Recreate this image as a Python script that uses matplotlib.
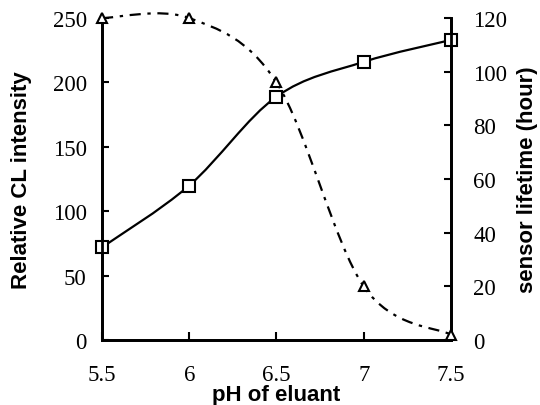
import matplotlib
matplotlib.use('Agg')
import matplotlib.pyplot as plt
from matplotlib.path import Path
from matplotlib.patches import PathPatch

ph = [5.5, 6.0, 6.5, 7.0, 7.5]
intensity = [72, 120, 189, 216, 233]
lifetime = [120, 120, 96, 20, 2]


def smooth_path(xs, ys):
    # Excel-like smoothed line: cubic Bezier segments (Catmull-Rom tangents)
    verts = [(xs[0], ys[0])]
    codes = [Path.MOVETO]
    n = len(xs)
    for i in range(n - 1):
        x0, y0 = (xs[i - 1], ys[i - 1]) if i > 0 else (xs[i], ys[i])
        x1, y1 = xs[i], ys[i]
        x2, y2 = xs[i + 1], ys[i + 1]
        x3, y3 = (xs[i + 2], ys[i + 2]) if i + 2 < n else (x2, y2)
        c1 = (x1 + (x2 - x0) / 6, y1 + (y2 - y0) / 6)
        c2 = (x2 - (x3 - x1) / 6, y2 - (y3 - y1) / 6)
        verts += [c1, c2, (x2, y2)]
        codes += [Path.CURVE4] * 3
    return Path(verts, codes)


serif = 'Liberation Serif'
sans = 'Liberation Sans'

fig = plt.figure(figsize=(5.4, 4.06), dpi=100)
ax = fig.add_axes([0.189, 0.160, 0.646, 0.793])
ax2 = ax.twinx()

ax.add_patch(PathPatch(smooth_path(ph, intensity), fill=False, color='black', lw=1.6,
                       zorder=2, clip_on=False))
ax.plot(ph, intensity, ls='none', marker='s', ms=8.5, mfc='white', mec='black', mew=1.5,
        zorder=3, clip_on=False)

ax2.add_patch(PathPatch(smooth_path(ph, lifetime), fill=False, color='black', lw=1.6,
                        linestyle=(0, (5, 3, 1.5, 3)), zorder=2, clip_on=False))
ax2.plot(ph, lifetime, ls='none', marker='^', ms=7, mfc='white', mec='black', mew=1.5,
         zorder=3, clip_on=False)

ax.set_xlim(5.5, 7.5)
ax.set_ylim(0, 250)
ax2.set_ylim(0, 120)
ax.set_xticks(ph)
ax.set_xticklabels(['5.5', '6', '6.5', '7', '7.5'])
ax.set_yticks(range(0, 251, 50))
ax2.set_yticks(range(0, 121, 20))

for a in (ax, ax2):
    a.spines['top'].set_visible(False)
    for s in a.spines.values():
        s.set_linewidth(2)
    for lab in a.get_xticklabels() + a.get_yticklabels():
        lab.set_fontfamily(serif)
        lab.set_fontsize(16.5)

ax.tick_params(axis='y', direction='in', length=5, width=1.5, pad=11)
ax.tick_params(axis='x', direction='in', length=6, width=1.5, pad=17)
ax2.tick_params(axis='y', direction='in', length=5, width=1.5, pad=16)

fig.text(22 / 540, 1 - 180 / 406, 'Relative CL intensity', rotation=90, ha='center', va='center',
         fontfamily=sans, fontweight='bold', fontsize=16)
fig.text(528 / 540, 1 - 180 / 406, 'sensor lifetime (hour)', rotation=90, ha='center', va='center',
         fontfamily=sans, fontweight='bold', fontsize=16)
fig.text(276 / 540, 1 - 396 / 406, 'pH of eluant', ha='center', va='center',
         fontfamily=sans, fontweight='bold', fontsize=16)

plt.savefig('out.png', dpi=100)
